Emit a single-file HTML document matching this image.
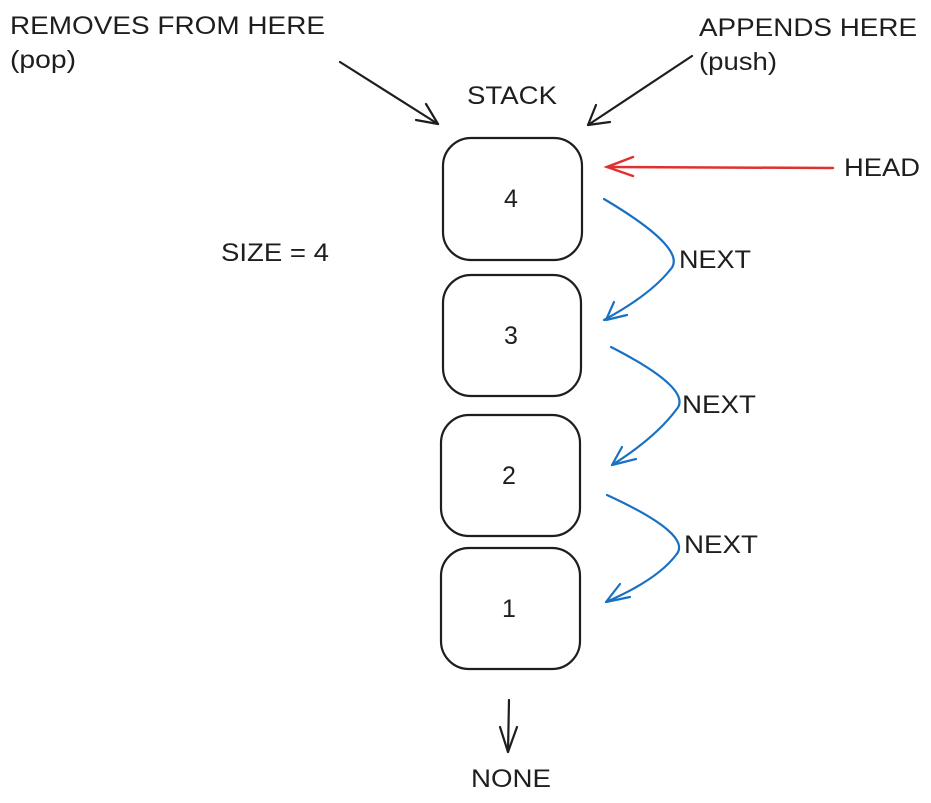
<!DOCTYPE html>
<html><head><meta charset="utf-8"><style>
html,body{margin:0;padding:0;background:#fff;}
svg{display:block;}
text{font-family:"Liberation Sans",sans-serif;font-size:25px;fill:#1e1e1e;}
</style></head><body>
<svg width="931" height="803" viewBox="0 0 931 803" xmlns="http://www.w3.org/2000/svg">
<g fill="none" stroke="#1e1e1e" stroke-width="2.2" stroke-linecap="round" stroke-linejoin="round">
<rect x="443" y="138" width="139" height="122" rx="28"/>
<rect x="443" y="275" width="138" height="121" rx="28"/>
<rect x="441" y="415" width="139" height="121" rx="28"/>
<rect x="441" y="548" width="139" height="121" rx="28"/>
<path d="M340 62 L438 124"/>
<path d="M416 120 L438 124 L426 104"/>
<path d="M692 56 L588 125"/>
<path d="M596 105 L588 125 L610 122"/>
<path d="M509 700 L508 752"/>
<path d="M500 727 L508 752 L517 727"/>
</g>
<g fill="none" stroke="#e03131" stroke-width="2.5" stroke-linecap="round">
<path d="M833 168 L607 167"/>
<path d="M633 157 L607 167 L633 176"/>
</g>
<g fill="none" stroke="#1971c2" stroke-width="2.2" stroke-linecap="round" stroke-linejoin="round">
<path d="M604 199 Q690 250 670 270 Q650 295 604 320"/>
<path d="M606 320 L614 302 M606 320 L627 315"/>
<path d="M611 347 Q695 390 676 410 Q655 438 612 465"/>
<path d="M612 465 L622 447 M612 465 L636 459"/>
<path d="M607 495 Q694 535 676 555 Q657 580 606 602"/>
<path d="M606 602 L620 584 M606 602 L630 597"/>
</g>
<text x="10" y="34" textLength="315" lengthAdjust="spacingAndGlyphs">REMOVES FROM HERE</text>
<text x="10" y="68" textLength="66" lengthAdjust="spacingAndGlyphs">(pop)</text>
<text x="699" y="36" textLength="218" lengthAdjust="spacingAndGlyphs">APPENDS HERE</text>
<text x="699" y="70" textLength="78" lengthAdjust="spacingAndGlyphs">(push)</text>
<text x="467" y="104" textLength="90" lengthAdjust="spacingAndGlyphs">STACK</text>
<text x="844" y="176" textLength="76" lengthAdjust="spacingAndGlyphs">HEAD</text>
<text x="221" y="261" textLength="108" lengthAdjust="spacingAndGlyphs">SIZE = 4</text>
<text x="504" y="207">4</text>
<text x="504" y="344">3</text>
<text x="502" y="484">2</text>
<text x="502" y="617">1</text>
<text x="679" y="268" textLength="72" lengthAdjust="spacingAndGlyphs">NEXT</text>
<text x="682" y="413" textLength="74" lengthAdjust="spacingAndGlyphs">NEXT</text>
<text x="684" y="553" textLength="74" lengthAdjust="spacingAndGlyphs">NEXT</text>
<text x="471" y="787" textLength="80" lengthAdjust="spacingAndGlyphs">NONE</text>
</svg>
</body></html>
